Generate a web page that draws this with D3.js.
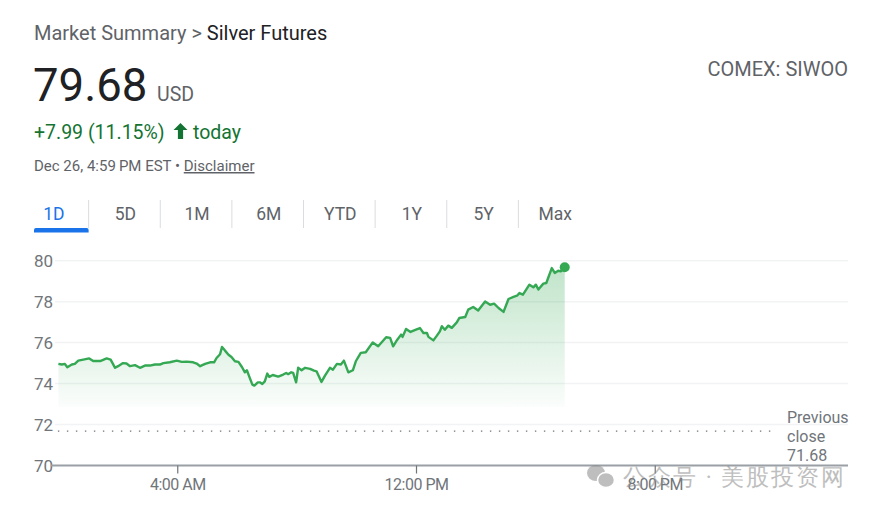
<!DOCTYPE html>
<html lang="en">
<head>
  <meta charset="UTF-8" />
  <title>Silver Futures</title>
  <script src="https://d3js.org/d3.v7.min.js"></script>
  <style>
    body {
      margin: 0;
      background: #fff;
      font-family: Roboto, Arial, sans-serif;
    }
    svg text {
      font-family: Roboto, Arial, sans-serif;
    }
    .tab { font-size: 17.5px; fill: #5f6368; text-anchor: middle; }
    .x-axis text { font-size: 16px; fill: #70757a; letter-spacing: -0.5px; }
  </style>
</head>
<body>
  <div id="chart"></div>

  <script>
    // minutes since midnight (ET) and price
    const priceMinutes = [
      1, 8, 14, 19, 28, 34, 41, 51, 63, 71, 85, 98, 106, 115, 121, 131, 138, 145, 155, 165,
      175, 185, 195, 205, 212, 225, 239, 249, 259, 272, 279, 286, 296, 306, 314, 319, 326, 330, 336, 343,
      349, 356, 363, 370, 376, 380, 384, 391, 395, 402, 406, 411, 416, 421, 425, 432, 443, 453, 459, 463,
      469, 473, 479, 483, 490, 497, 507, 515, 520, 530, 537, 547, 553, 561, 569, 575, 584, 593, 599, 609,
      619, 633, 644, 660, 668, 674, 682, 690, 693, 700, 709, 720, 728, 735, 742, 745, 755, 762, 768, 772,
      778, 785, 792, 802, 807, 819, 825, 835, 845, 859, 869, 877, 886, 896, 906, 916, 923, 928, 935, 948,
      956, 961, 966, 976, 982, 993, 999, 1006, 1011, 1019
    ];
    const priceValues = [
      74.96, 74.93, 74.96, 74.80, 74.93, 74.96, 75.12, 75.17, 75.23, 75.10, 75.10, 75.23, 75.17, 74.77, 74.85, 75.00, 74.98, 74.85, 74.90, 74.77,
      74.88, 74.88, 74.93, 74.93, 75.00, 75.04, 75.12, 75.06, 75.07, 75.04, 74.98, 74.85, 74.96, 75.04, 75.04, 75.25, 75.43, 75.79, 75.61, 75.41,
      75.30, 75.09, 75.06, 74.81, 74.55, 74.65, 74.39, 73.95, 73.90, 74.06, 74.06, 73.98, 74.11, 74.49, 74.33, 74.42, 74.34, 74.44, 74.52, 74.46,
      74.55, 74.52, 74.06, 74.77, 74.65, 74.77, 74.72, 74.63, 74.60, 74.08, 74.39, 74.77, 74.68, 74.96, 74.93, 75.12, 74.55, 74.65, 75.09, 75.50,
      75.53, 76.01, 75.82, 76.26, 76.23, 75.82, 76.13, 76.39, 76.28, 76.67, 76.52, 76.63, 76.71, 76.47, 76.47, 76.28, 76.11, 76.34, 76.55, 76.80,
      76.63, 76.83, 76.72, 76.99, 77.20, 77.25, 77.61, 77.74, 77.57, 78.01, 77.85, 77.90, 77.69, 77.50, 78.13, 78.23, 78.29, 78.42, 78.34, 78.83,
      78.70, 78.83, 78.59, 78.88, 78.91, 79.64, 79.40, 79.51, 79.48, 79.68
    ];

    const yTicks = [70, 72, 74, 76, 78, 80];
    const xTickMinutes = [240, 720, 1200];
    const xTickLabels = ["4:00 AM", "12:00 PM", "8:00 PM"];
    const tabs = ["1D", "5D", "1M", "6M", "YTD", "1Y", "5Y", "Max"];
    const previousClose = 71.68;
    const changeAbs = 7.99;
    const changePct = 11.15;
    const areaFloor = 72.85;

    const width = 875;
    const height = 510;

    const data = priceMinutes.map((m, i) => ({ m: m, v: priceValues[i] }));
    const last = data[data.length - 1];

    const svg = d3.select("#chart")
                  .append("svg")
                    .attr("width", width)
                    .attr("height", height);

    // ---------- header ----------
    const head = svg.append("text").attr("x", 34).attr("y", 40).attr("font-size", 20);
    head.append("tspan").attr("fill", "#5f6368").text("Market Summary > ");
    head.append("tspan").attr("fill", "#202124").text("Silver Futures");

    svg.append("text")
       .attr("x", 33).attr("y", 101)
       .attr("font-size", 45.5)
       .attr("fill", "#202124")
       .text(last.v.toFixed(2));

    svg.append("text")
       .attr("x", 157).attr("y", 101)
       .attr("font-size", 19.5)
       .attr("fill", "#5f6368")
       .text("USD");

    svg.append("text")
       .attr("x", 848).attr("y", 76)
       .attr("font-size", 20)
       .attr("text-anchor", "end")
       .attr("fill", "#5f6368")
       .text("COMEX: SIWOO");

    svg.append("text")
       .attr("x", 34).attr("y", 139)
       .attr("font-size", 19.5)
       .attr("fill", "#137333")
       .text(`+${changeAbs.toFixed(2)} (${changePct.toFixed(2)}%)`);

    // bold up arrow
    svg.append("path")
       .attr("d", "M0,-8 L7,-1 L2.6,-1 L2.6,8 L-2.6,8 L-2.6,-1 L-7,-1 Z")
       .attr("transform", "translate(180.5,131)")
       .attr("fill", "#137333");

    svg.append("text")
       .attr("x", 193).attr("y", 139)
       .attr("font-size", 19.5)
       .attr("fill", "#137333")
       .text("today");

    const stamp = svg.append("text").attr("x", 34).attr("y", 171).attr("font-size", 15).attr("fill", "#5f6368");
    stamp.append("tspan").text("Dec 26, 4:59\u2009PM EST \u2022 ");
    stamp.append("tspan").attr("text-decoration", "underline").text("Disclaimer");

    // ---------- tabs ----------
    const tabScale = d3.scaleBand().domain(tabs).range([18, 591]);

    svg.selectAll(".tab")
       .data(tabs)
       .enter()
       .append("text")
         .attr("class", "tab")
         .attr("x", d => tabScale(d) + tabScale.bandwidth() / 2)
         .attr("y", 220)
         .style("fill", (d, i) => i === 0 ? "#1a73e8" : null)
         .text(d => d);

    svg.selectAll(".tab-sep")
       .data(tabs.slice(1))
       .enter()
       .append("line")
         .attr("class", "tab-sep")
         .attr("x1", d => tabScale(d) - 1)
         .attr("x2", d => tabScale(d) - 1)
         .attr("y1", 200)
         .attr("y2", 228)
         .attr("stroke", "#dadce0")
         .attr("stroke-width", 1);

    svg.append("path")
       .attr("d", `M34,232.5 V230 a2,2 0 0 1 2,-2 H${tabScale(tabs[1]) - 3} a2,2 0 0 1 2,2 V232.5 Z`)
       .attr("fill", "#1a73e8");

    // ---------- chart ----------
    const x = d3.scaleLinear().domain([0, 1440]).range([57.9, 774.1]);
    const y = d3.scaleLinear().domain([70, 80]).range([465.5, 260.7]);

    // grid
    svg.selectAll(".grid")
       .data(yTicks.filter(t => t !== 70))
       .enter()
       .append("line")
         .attr("x1", 55).attr("x2", 848)
         .attr("y1", d => y(d)).attr("y2", d => y(d))
         .attr("stroke", "#f1f3f4")
         .attr("stroke-width", 1.5);

    // y labels
    svg.selectAll(".ylab")
       .data(yTicks)
       .enter()
       .append("text")
         .attr("x", 34)
         .attr("y", d => y(d))
         .attr("dy", "0.36em")
         .attr("font-size", 17)
         .attr("fill", "#70757a")
         .text(d => d);

    // gradient fill
    const defs = svg.append("defs");
    const grad = defs.append("linearGradient")
                     .attr("id", "area-grad")
                     .attr("gradientUnits", "userSpaceOnUse")
                     .attr("x1", 0).attr("x2", 0)
                     .attr("y1", y(80)).attr("y2", y(areaFloor));
    grad.append("stop").attr("offset", "0%").attr("stop-color", "#34a853").attr("stop-opacity", 0.32);
    grad.append("stop").attr("offset", "100%").attr("stop-color", "#34a853").attr("stop-opacity", 0.02);

    const area = d3.area()
                   .x(d => x(d.m))
                   .y0(y(areaFloor))
                   .y1(d => y(d.v));

    svg.append("path")
       .datum(data)
       .attr("d", area)
       .attr("fill", "url(#area-grad)");

    // previous close
    svg.append("line")
       .attr("x1", x(0)).attr("x2", x(1440) + 3)
       .attr("y1", y(previousClose)).attr("y2", y(previousClose))
       .attr("stroke", "#70757a")
       .attr("stroke-width", 1.4)
       .attr("stroke-dasharray", "1.4 7.6");

    const pc = svg.append("text")
                  .attr("x", 787)
                  .attr("y", y(previousClose) - 8)
                  .attr("font-size", 16)
                  .attr("fill", "#70757a");
    ["Previous", "close", previousClose.toFixed(2)].forEach((t, i) => {
      pc.append("tspan").attr("x", 787).attr("dy", i === 0 ? 0 : 19).text(t);
    });

    // x axis
    svg.append("line")
       .attr("x1", 51).attr("x2", 848)
       .attr("y1", y(70)).attr("y2", y(70))
       .attr("stroke", "#9aa0a6")
       .attr("stroke-width", 2);

    const xAxis = d3.axisBottom(x)
                    .tickValues(xTickMinutes)
                    .tickSize(8)
                    .tickPadding(5)
                    .tickFormat((d, i) => xTickLabels[i]);

    const gx = svg.append("g")
                  .attr("class", "x-axis")
                  .attr("transform", `translate(0,${y(70)})`)
                  .call(xAxis);
    gx.select(".domain").remove();
    gx.selectAll(".tick line").attr("stroke", "#70757a").attr("stroke-width", 1.2);
    gx.attr("font-family", null).attr("font-size", null);

    // price line
    const line = d3.line()
                   .x(d => x(d.m))
                   .y(d => y(d.v));

    svg.append("path")
       .datum(data)
       .attr("d", line)
       .attr("fill", "none")
       .attr("stroke", "#34a853")
       .attr("stroke-width", 2.4)
       .attr("stroke-linejoin", "round");

    svg.append("circle")
       .attr("cx", x(last.m))
       .attr("cy", y(last.v))
       .attr("r", 5)
       .attr("fill", "#34a853");

    // ---------- watermark ----------
    const wm = svg.append("g").attr("opacity", 0.55);
    wm.append("ellipse").attr("cx", 596).attr("cy", 473).attr("rx", 9).attr("ry", 8).attr("fill", "#8a8a8a");
    wm.append("ellipse").attr("cx", 606).attr("cy", 480).attr("rx", 8.5).attr("ry", 7.5)
      .attr("fill", "#8a8a8a").attr("stroke", "#fff").attr("stroke-width", 1.5);
    wm.append("text")
      .attr("x", 623).attr("y", 485)
      .attr("font-size", 23)
      .attr("font-family", "'Noto Sans CJK SC', sans-serif")
      .attr("fill", "#8a8a8a")
      .attr("letter-spacing", 2)
      .text("公众号 · 美股投资网");
  </script>
</body>
</html>
